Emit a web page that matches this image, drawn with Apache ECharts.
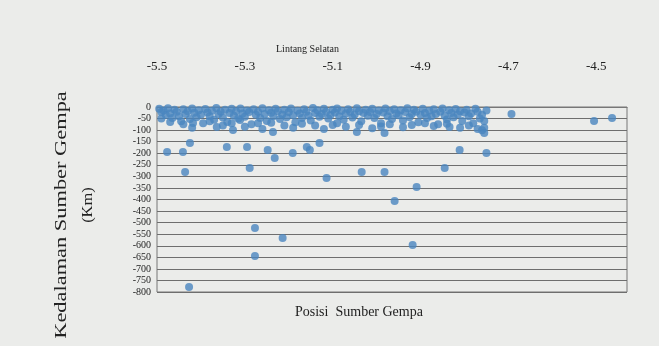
<!DOCTYPE html>
<html>
<head>
<meta charset="utf-8">
<script src="https://cdn.jsdelivr.net/npm/echarts@6/dist/echarts.min.js"></script>
<style>html,body{margin:0;padding:0;background:#ebecea;}#c{width:659px;height:346px;}</style>
</head>
<body>
<div id="c"></div>
<script>
// x tick labels (Lintang Selatan) and y ticks (Kedalaman, km)
const xTicks = [-5.5, -5.3, -5.1, -4.9, -4.7, -4.5];
const yTicks = [0, -50, -100, -150, -200, -250, -300, -350, -400, -450, -500, -550, -600, -650, -700, -750, -800];

// shallow earthquakes [lintang, kedalaman]
const shallowEvents = [
[-5.495,-8],[-5.49,-22],[-5.485,-15],[-5.48,-35],[-5.475,-5],[-5.47,-28],[-5.465,-48],[-5.46,-12],[-5.455,-20],[-5.45,-40],
[-5.445,-62],[-5.44,-10],[-5.435,-30],[-5.43,-18],[-5.425,-52],[-5.42,-6],[-5.415,-25],[-5.41,-44],[-5.405,-14],[-5.40,-33],
[-5.395,-70],[-5.39,-9],[-5.385,-24],[-5.38,-40],[-5.375,-16],[-5.37,-55],[-5.365,-4],[-5.36,-30],[-5.355,-20],[-5.35,-45],
[-5.345,-12],[-5.34,-65],[-5.335,-26],[-5.33,-8],[-5.325,-38],[-5.32,-18],[-5.315,-50],[-5.31,-6],[-5.305,-28],[-5.30,-42],
[-5.295,-15],[-5.29,-22],[-5.285,-75],[-5.28,-10],[-5.275,-34],[-5.27,-20],[-5.265,-48],[-5.26,-5],[-5.255,-30],[-5.25,-60],
[-5.245,-14],[-5.24,-25],[-5.235,-40],[-5.23,-8],[-5.225,-18],[-5.22,-52],[-5.215,-32],[-5.21,-12],[-5.205,-44],[-5.20,-22],
[-5.195,-6],[-5.19,-36],[-5.185,-66],[-5.18,-16],[-5.175,-28],[-5.17,-48],[-5.165,-10],[-5.16,-20],[-5.155,-38],[-5.15,-58],
[-5.145,-4],[-5.14,-26],[-5.135,-14],[-5.13,-42],[-5.125,-30],[-5.12,-8],[-5.115,-20],[-5.11,-50],[-5.105,-35],[-5.10,-12],
[-5.095,-24],[-5.09,-6],[-5.085,-40],[-5.08,-16],[-5.075,-55],[-5.07,-28],[-5.065,-10],[-5.06,-20],[-5.055,-45],[-5.05,-32],
[-5.045,-5],[-5.04,-18],[-5.035,-62],[-5.03,-26],[-5.025,-12],[-5.02,-38],[-5.015,-22],[-5.01,-8],[-5.005,-48],[-5.00,-30],
[-4.995,-15],[-4.99,-70],[-4.985,-24],[-4.98,-6],[-4.975,-40],[-4.97,-18],[-4.965,-52],[-4.96,-10],[-4.955,-28],[-4.95,-36],
[-4.945,-14],[-4.94,-58],[-4.935,-22],[-4.93,-5],[-4.925,-44],[-4.92,-30],[-4.915,-12],[-4.91,-20],[-4.905,-66],[-4.90,-34],
[-4.895,-8],[-4.89,-26],[-4.885,-48],[-4.88,-16],[-4.875,-40],[-4.87,-10],[-4.865,-30],[-4.86,-75],[-4.855,-20],[-4.85,-6],
[-4.845,-38],[-4.84,-54],[-4.835,-14],[-4.83,-26],[-4.825,-44],[-4.82,-9],[-4.815,-32],[-4.81,-18],[-4.805,-60],[-4.80,-24],
[-4.795,-12],[-4.79,-40],[-4.785,-28],[-4.78,-70],[-4.775,-8],[-4.77,-20],[-4.765,-50],[-4.76,-34],[-4.755,-90],[-4.75,-15],
[-4.755,-60],[-4.76,-100],
[-5.49,-50],[-5.47,-65],[-5.44,-75],[-5.42,-90],[-5.38,-62],[-5.35,-80],[-5.33,-70],[-5.30,-85],[-5.27,-70],[-5.26,-95],
[-5.24,-68],[-5.21,-80],[-5.19,-90],[-5.17,-72],[-5.14,-80],[-5.12,-95],[-5.09,-70],[-5.07,-85],[-5.04,-78],[-5.01,-92],
[-4.99,-84],[-4.97,-75],[-4.94,-88],[-4.92,-78],[-4.89,-70],[-4.87,-82],[-4.84,-72],[-4.81,-90],[-4.79,-80],[-4.77,-95]
];

// deeper / isolated events [lintang, kedalaman]
const deepEvents = [
[-5.477,-195],[-5.441,-195],[-5.436,-281],[-5.425,-156],[-5.418,-69],[-5.364,-86],[-5.327,-99],[-5.341,-173],[-5.311,-56],
[-5.295,-173],[-5.289,-264],[-5.248,-186],[-5.236,-108],[-5.232,-220],[-5.191,-199],[-5.159,-173],[-5.130,-156],[-5.152,-186],
[-5.100,-78],[-5.045,-108],[-4.982,-112],[-4.834,-86],[-4.755,-112],[-4.811,-186],[-4.750,-199],[-4.845,-264],[-5.034,-281],
[-4.982,-281],[-5.114,-307],[-4.909,-346],[-4.959,-406],[-5.277,-523],[-5.214,-567],[-4.918,-597],[-5.277,-644],[-5.427,-778],
[-4.693,-30],[-4.505,-60],[-4.464,-48]
];

const chart = echarts.init(document.getElementById('c'));
const serif = 'Liberation Serif, DejaVu Serif, serif';
chart.setOption({
  backgroundColor: '#ebecea',
  animation: false,
  grid: { left: 157, right: 32, top: 107, bottom: 54, show: true, borderColor: '#777', borderWidth: 1 },
  xAxis: {
    type: 'value', position: 'top', min: xTicks[0], max: -4.43, interval: 0.2,
    axisLine: { show: true, lineStyle: { color: '#777' } },
    axisTick: { show: false },
    splitLine: { show: false },
    axisLabel: {
      margin: 34, fontFamily: serif, fontSize: 13, color: '#222',
      formatter: v => xTicks.some(t => Math.abs(t - v) < 1e-6) ? v.toFixed(1) : ''
    }
  },
  yAxis: {
    type: 'value', min: yTicks[yTicks.length - 1], max: yTicks[0], interval: 50,
    axisLine: { show: false }, axisTick: { show: false },
    splitLine: { show: true, lineStyle: { color: '#6e6e6e', width: 1 } },
    axisLabel: { margin: 6, fontFamily: serif, fontSize: 10, color: '#222' }
  },
  title: [
    { text: 'Lintang Selatan', left: 271, top: 39, textStyle: { fontFamily: serif, fontSize: 10, fontWeight: 'normal', color: '#222' } },
    { text: 'Posisi  Sumber Gempa', left: 290, top: 300, textStyle: { fontFamily: serif, fontSize: 14, fontWeight: 'normal', color: '#222' } }
  ],
  graphic: [
    { type: 'text', x: 62, y: 215, rotation: Math.PI / 2, scaleX: 1.4,
      style: { text: 'Kedalaman Sumber Gempa', font: '16px ' + serif, fill: '#222', textAlign: 'center', textVerticalAlign: 'middle' } },
    { type: 'text', x: 88, y: 205, rotation: Math.PI / 2, scaleX: 1.1,
      style: { text: '(Km)', font: '15px ' + serif, fill: '#222', textAlign: 'center', textVerticalAlign: 'middle' } }
  ],
  series: [
    { type: 'scatter', data: shallowEvents, symbol: 'circle', symbolSize: 8, itemStyle: { color: '#4a86bf' } },
    { type: 'scatter', data: deepEvents, symbol: 'circle', symbolSize: 8, itemStyle: { color: '#4a86bf' } }
  ]
});
</script>
</body>
</html>
